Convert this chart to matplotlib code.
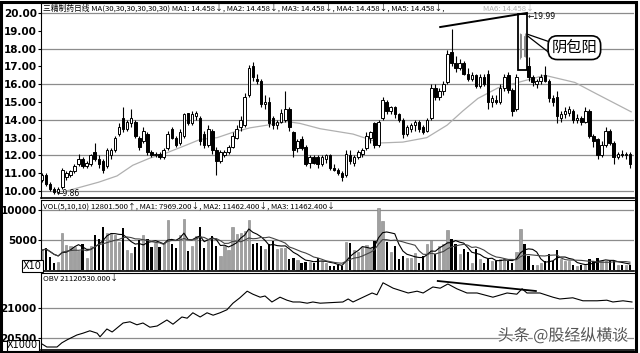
import numpy as np
import pandas as pd
import matplotlib
matplotlib.use('Agg')
import matplotlib.pyplot as plt
import matplotlib.patheffects as pe
from matplotlib.patches import Rectangle

plt.rcParams['font.family'] = ['Noto Sans CJK SC', 'DejaVu Sans']

# daily candles (price, yuan)
opens = [10.6, 10.9, 10.4, 10.1, 9.95, 10.2, 10.8, 10.9, 11.1, 11.5, 11.8, 11.4, 11.5, 12.2, 11.8, 11.7,
         11.4, 12.0, 12.3, 13.2, 14.1, 13.5, 13.8, 13.9, 13.0, 12.8, 13.2, 12.2, 12.0, 12.1, 11.9, 12.4,
         13.5, 13.0, 12.7, 13.1, 14.4, 13.8, 14.2, 14.1, 13.2, 12.6, 13.4, 12.3, 11.7, 12.0, 12.2, 12.5,
         13.0, 13.6, 13.7, 15.4, 17.0, 16.3, 16.2, 14.9, 15.0, 14.1, 13.7, 13.9, 14.0, 14.6, 13.3, 12.4,
         12.9, 12.5, 11.6, 11.9, 11.9, 11.5, 11.8, 12.0, 11.3, 11.2, 11.0, 10.9, 12.0, 11.6, 11.9, 12.1,
         12.4, 13.0, 13.8, 12.6, 14.1, 15.0, 14.5, 14.7, 14.3, 14.0, 13.2, 13.5, 13.7, 13.9, 13.6, 13.4,
         14.1, 15.8, 15.3, 15.6, 16.1, 17.8, 17.2, 16.9, 17.2, 16.6, 16.3, 16.5, 15.9, 16.4, 16.6, 15.0,
         15.1, 15.0, 15.8, 16.5, 15.7, 14.6, 17.5, 18.7, 17.0, 16.4, 16.0, 16.2, 16.5, 16.2, 15.2, 15.3,
         14.1, 14.3, 14.4, 14.5, 14.0, 14.1, 13.9, 14.5, 13.1, 12.9, 12.0, 12.6, 13.4, 12.7, 11.9, 12.1,
         12.0, 12.1]
highs = [11.0, 11.0, 10.5, 10.2, 10.2, 11.3, 11.1, 11.2, 11.5, 12.1, 11.9, 11.7, 12.1, 12.7, 12.0, 11.8,
         12.4, 12.4, 13.1, 13.8, 14.7, 14.0, 14.6, 14.0, 13.1, 13.6, 13.3, 12.3, 12.2, 12.2, 12.4, 13.4,
         13.6, 13.1, 13.5, 14.4, 14.4, 14.5, 14.5, 14.2, 13.4, 13.7, 13.5, 12.5, 12.3, 12.3, 12.6, 13.3,
         13.7, 14.2, 15.5, 17.1, 17.25, 16.6, 16.3, 15.4, 15.3, 14.2, 14.0, 14.6, 15.6, 14.7, 13.4, 12.9,
         13.1, 12.6, 12.0, 12.0, 12.0, 12.0, 12.1, 12.1, 11.5, 11.3, 11.1, 12.3, 12.3, 12.0, 12.3, 12.4,
         13.3, 13.4, 13.9, 14.0, 15.3, 15.1, 14.8, 14.8, 14.4, 14.1, 13.7, 13.8, 14.0, 14.0, 13.7, 14.1,
         16.0, 16.0, 15.8, 16.2, 17.9, 19.1, 17.6, 17.4, 17.3, 16.9, 16.7, 16.6, 16.6, 16.6, 16.8, 15.4,
         15.4, 16.0, 16.6, 16.7, 15.8, 16.6, 18.9, 18.9, 17.5, 16.5, 16.3, 16.6, 17.0, 16.3, 15.4, 15.6,
         14.5, 14.7, 14.8, 14.6, 14.3, 14.2, 14.7, 14.6, 13.2, 13.0, 12.8, 13.6, 13.5, 12.8, 12.2, 12.3,
         12.2, 12.2]
lows = [10.5, 10.3, 10.0, 9.86, 9.9, 10.1, 10.6, 10.8, 11.0, 11.4, 11.3, 11.3, 11.4, 11.7, 11.3, 11.0,
        11.3, 11.8, 12.2, 13.1, 13.3, 13.4, 13.6, 13.0, 12.3, 12.7, 12.0, 11.9, 11.9, 11.8, 11.8, 12.3,
        12.9, 12.5, 12.6, 13.0, 13.7, 13.7, 14.0, 12.6, 12.4, 12.5, 12.1, 10.9, 11.6, 11.9, 12.1, 12.4,
        12.9, 13.4, 13.6, 15.3, 16.2, 16.0, 14.7, 14.6, 13.6, 13.5, 13.5, 13.8, 13.9, 13.4, 11.9, 12.2,
        12.3, 11.4, 11.3, 11.5, 11.3, 11.4, 11.6, 11.2, 11.1, 10.9, 10.55, 10.8, 11.5, 11.4, 11.8, 11.9,
        12.3, 12.7, 12.4, 12.5, 14.0, 14.3, 14.3, 14.1, 13.9, 13.0, 13.1, 13.3, 13.4, 13.3, 13.2, 13.3,
        14.0, 15.1, 15.1, 15.4, 16.0, 17.0, 16.7, 16.8, 16.5, 16.2, 16.2, 15.8, 15.8, 15.9, 14.6, 14.7,
        14.9, 14.9, 15.6, 15.5, 14.2, 14.5, 17.4, 17.5, 16.2, 15.9, 15.8, 16.0, 16.1, 15.0, 14.8, 13.8,
        13.9, 14.1, 14.2, 13.8, 13.8, 13.7, 13.8, 13.0, 12.5, 11.8, 11.9, 12.5, 12.6, 11.5, 11.8, 11.9,
        11.8, 11.3]
closes = [10.9, 10.4, 10.1, 9.95, 10.1, 11.2, 11.0, 11.1, 11.4, 11.8, 11.4, 11.6, 12.0, 11.8, 11.5, 11.2,
          12.3, 12.3, 13.0, 13.6, 13.5, 13.9, 14.1, 13.1, 12.5, 13.4, 12.2, 12.0, 12.1, 11.9, 12.3, 13.2,
          13.0, 12.6, 13.3, 14.3, 13.8, 14.3, 14.4, 12.8, 12.6, 13.5, 12.3, 11.7, 12.2, 12.2, 12.5, 13.1,
          13.5, 14.0, 15.3, 16.9, 16.4, 16.2, 14.9, 15.0, 13.8, 13.7, 13.9, 14.4, 14.6, 13.6, 12.3, 12.8,
          12.4, 11.5, 11.9, 11.6, 11.5, 11.9, 12.0, 11.3, 11.2, 11.0, 10.8, 12.1, 11.7, 11.9, 12.2, 12.3,
          13.1, 13.3, 12.6, 13.9, 15.1, 14.5, 14.7, 14.3, 14.0, 13.2, 13.6, 13.7, 13.9, 13.5, 13.3, 14.0,
          15.8, 15.3, 15.6, 16.0, 17.7, 17.2, 16.9, 17.2, 16.6, 16.3, 16.5, 15.9, 16.4, 16.0, 15.0, 15.2,
          15.0, 15.8, 16.4, 15.7, 14.5, 16.4, 18.8, 17.6, 16.4, 16.1, 16.2, 16.4, 16.2, 15.2, 15.0, 14.2,
          14.3, 14.5, 14.6, 14.0, 14.1, 13.9, 14.5, 13.1, 12.8, 12.0, 12.6, 13.4, 12.7, 11.9, 12.1, 12.0,
          12.1, 11.5]
volumes = [3300, 3700, 2200, 1200, 1300, 6100, 4100, 4000, 3800, 3100, 4300, 2000, 4000, 5900, 5200, 7200,
           6100, 6000, 5800, 4600, 7000, 3300, 2900, 3800, 5000, 5900, 5200, 3800, 4500, 3800, 4500, 8300,
           4400, 3700, 5800, 8500, 3100, 4000, 5600, 7200, 3700, 4800, 5600, 4000, 2300, 4000, 3300, 7100,
           6000, 6200, 6500, 8400, 4300, 4500, 4000, 3500, 4400, 4900, 3500, 3700, 3600, 1900, 2000, 1700,
           1200, 1400, 1400, 1200, 2000, 1500, 1100, 600, 600, 800, 700, 4700, 4500, 3400, 3000, 3900,
           4100, 3700, 4800, 10400, 8100, 4700, 3000, 4000, 1800, 2300, 2000, 2000, 2900, 1200, 2300, 4400,
           5000, 2700, 4000, 4300, 6600, 5200, 4400, 2700, 3500, 3000, 1200, 3500, 1800, 1200, 1800, 1500,
           1500, 1800, 1800, 1500, 1200, 3000, 6800, 4300, 2300, 800, 800, 1100, 1500, 2700, 1500, 3300,
           1800, 1500, 1500, 800, 600, 800, 800, 1900, 1500, 2000, 1500, 1500, 1500, 1500, 900, 900,
           800, 900]

# 30-day MA (candle index, price)
ma30_idx = [6, 14, 18.5, 22.4, 26.6, 30.8, 35.8, 39, 43.2, 47.1, 51.3, 55.5, 60.4, 63.6, 68.6, 76.7,
            83.4, 89, 94.9, 99.9, 103.8, 107.5, 112.5, 117.4, 124, 131.4, 136.4, 145.3]
ma30_val = [10.0, 10.5, 10.85, 11.45, 11.85, 12.15, 12.6, 12.9, 13.0, 13.3, 13.55, 13.7, 13.9, 13.8, 13.5, 13.2,
            12.7, 12.75, 13.0, 13.7, 14.5, 15.2, 15.8, 16.1, 16.5, 16.1, 15.5, 14.45]

# OBV (x1000)
obv_idx = [0, 1.2, 3.7, 4.9, 6.2, 8.6, 10.1, 11.8, 13.6, 14.3, 16, 17.3, 20, 21.7, 23.4, 24.9, 26.6, 28.4,
           30.8, 32.3, 34.5, 35.8, 37.2, 39, 40.7, 42.2, 43.9, 45.6, 47.1, 48.8, 50.6, 52, 53.8, 55, 56.7,
           58.7, 60.4, 61.9, 63.6, 65.4, 66.8, 68.6, 74.2, 75.5, 76.7, 79.2, 81.4, 82.6, 84.1, 86.6, 90.3,
           92.5, 94, 96.4, 98.2, 100.1, 102.3, 104.8, 107.3, 111.2, 114.7, 117.1, 118.4, 119.6, 122.8, 126,
           127.7, 130.9, 133.4, 136.9, 139.3, 140.8, 143.3, 145.5]
obv_val = [20400, 20350, 20350, 20420, 20470, 20550, 20580, 20620, 20580, 20520, 20650, 20600, 20750, 20770,
           20720, 20750, 20680, 20700, 20800, 20730, 20850, 20830, 20920, 20850, 20920, 20880, 20920, 20970,
           21080, 21170, 21280, 21230, 21180, 21200, 21100, 21180, 21130, 21100, 21100, 21080, 21100, 21080,
           21100, 21150, 21100, 21180, 21250, 21220, 21420, 21330, 21250, 21280, 21250, 21350, 21330, 21400,
           21320, 21250, 21250, 21180, 21250, 21230, 21320, 21250, 21250, 21180, 21150, 21170, 21120, 21120,
           21130, 21100, 21120, 21100]

price_ticks = [10, 11, 12, 13, 14, 15, 16, 17, 18, 19, 20]
vol_ticks = [5000, 10000]
obv_ticks = [20500, 21000]

o = np.array(opens); h = np.array(highs); l = np.array(lows); c = np.array(closes)
x = np.arange(len(opens))
up = c >= o
box_idx = [118, 119]  # the two candles inside the marked box

W, H = 640, 353
fig = plt.figure(figsize=(W / 100, H / 100), dpi=100)
fig.patch.set_facecolor('white')


def px_axes(left, top, right, bottom):
    return fig.add_axes([left / W, 1 - bottom / H, (right - left) / W, (bottom - top) / H])


ax1 = px_axes(41, 3, 634, 198)
ax2 = px_axes(41, 200, 634, 271)
ax3 = px_axes(41, 273, 634, 350)

xlim = (-0.25, 146.0)
tick_font = dict(family='DejaVu Sans', weight='bold', size=7.5)
for ax in (ax1, ax2, ax3):
    ax.set_xlim(*xlim)
    ax.set_xticks([])
    ax.spines['right'].set_visible(False)
    ax.spines['left'].set_linestyle((0, (1, 1)))
    ax.spines['left'].set_linewidth(0.8)
    ax.spines['top'].set_linewidth(0.8)
    ax.spines['bottom'].set_linewidth(1.2)
    ax.tick_params(axis='y', length=2, width=0.8, pad=1)
    ax.set_facecolor('white')

grid_kw = dict(color='#8c8c8c', lw=0.9, zorder=0)
hdr = 5.6

# ---- price panel
ax1.set_ylim(9.61, 20.56)
ax1.set_yticks(price_ticks)
ax1.set_yticklabels([f'{v:.2f}' for v in price_ticks], **tick_font)
for v in [10, 12, 14, 16, 18, 20]:
    ax1.axhline(v, **grid_kw)

normal = np.array([i not in box_idx for i in x])
ax1.vlines(x[normal], l[normal], h[normal], color='black', lw=0.8, zorder=2)
ax1.bar(x[normal & up], (c - o)[normal & up], bottom=o[normal & up], width=0.62,
        color='white', edgecolor='black', lw=0.7, zorder=3)
ax1.bar(x[normal & ~up], (c - o)[normal & ~up], bottom=o[normal & ~up], width=0.62,
        color='black', edgecolor='black', lw=0.7, zorder=3)
for i in box_idx:
    ax1.vlines(i, l[i], h[i], color='#999999', lw=0.8, zorder=2)
    ax1.bar(i, c[i] - o[i], bottom=o[i], width=0.45, color='white', edgecolor='#888888', lw=0.7, zorder=3)
ax1.add_patch(Rectangle((117.3, 16.8), 2.3, 19.95 - 16.8, fill=False, ec='black', lw=1.3, zorder=4))

ax1.plot(ma30_idx, ma30_val, color='#b0b0b0', lw=0.9, zorder=1)

# trend line over the two highs
ax1.plot([98.2, 119.6], [19.21, 20.0], color='black', lw=1.4, zorder=5)

ax1.text(3.5, 9.86, '←9.86', fontsize=5.5, family='DejaVu Sans', va='center', ha='left', zorder=5)
ax1.text(119.8, 19.82, '←19.99', fontsize=5.5, family='DejaVu Sans', va='center', ha='left', zorder=5)

# callout bubble
ax1.plot([119.8, 124.9], [18.8, 18.4], color='black', lw=0.9, zorder=5)
ax1.plot([119.8, 124.9], [18.7, 17.8], color='black', lw=0.9, zorder=5)
ax1.text(131.3, 18.05, '阴包阳', fontsize=11, ha='center', va='center', zorder=6,
         bbox=dict(boxstyle='round,pad=0.22,rounding_size=0.6', fc='white', ec='black', lw=1.2))

ax1.text(0.003, 0.993, '三精制药日线 MA(30,30,30,30,30,30) MA1: 14.458↓, MA2: 14.458↓, MA3: 14.458↓, '
         'MA4: 14.458↓, MA5: 14.458↓,', transform=ax1.transAxes, fontsize=hdr, va='top', ha='left')
ax1.text(0.745, 0.993, 'MA6: 14.458↓', transform=ax1.transAxes, fontsize=hdr, va='top', ha='left',
         color='#b0b0b0')

# ---- volume panel
ax2.set_ylim(-170, 11670)
ax2.set_yticks(vol_ticks)
ax2.set_yticklabels([str(v) for v in vol_ticks], **tick_font)
for v in vol_ticks:
    ax2.axhline(v, **grid_kw)
vol = np.array(volumes)
ax2.bar(x[up], vol[up], width=0.55, color='#a0a0a0', edgecolor='#808080', lw=0.4, zorder=2)
ax2.bar(x[~up], vol[~up], width=0.55, color='black', lw=0, zorder=2)
vs = pd.Series(volumes)
ax2.plot(x, vs.rolling(5, min_periods=1).mean(), color='black', lw=0.8, zorder=3)
ax2.plot(x, vs.rolling(10, min_periods=1).mean(), color='#444444', lw=0.8, zorder=3)
ax2.text(0.003, 0.97, 'VOL(5,10,10) 12801.500↑, MA1: 7969.200↓, MA2: 11462.400↓, MA3: 11462.400↓',
         transform=ax2.transAxes, fontsize=hdr, va='top', ha='left')

# ---- OBV panel
ax3.set_ylim(20300, 21583)
ax3.set_yticks(obv_ticks)
ax3.set_yticklabels([str(v) for v in obv_ticks], **tick_font)
for v in obv_ticks:
    ax3.axhline(v, **grid_kw)
ax3.plot(obv_idx, obv_val, color='black', lw=0.8, zorder=3)
ax3.plot([97.6, 121.8], [21450, 21283], color='black', lw=1.3, zorder=4)
ax3.text(0.003, 0.97, 'OBV 21120530.000↓', transform=ax3.transAxes, fontsize=hdr, va='top', ha='left')

# unit boxes on the left margin
fig.text(23 / W, 1 - 266 / H, 'X10', fontsize=7, family='DejaVu Sans', va='center', ha='left',
         bbox=dict(boxstyle='square,pad=0.1', fc='white', ec='black', lw=0.8))
fig.text(7 / W, 1 - 345.5 / H, 'X1000', fontsize=7, family='DejaVu Sans', va='center', ha='left',
         bbox=dict(boxstyle='square,pad=0.05', fc='white', ec='black', lw=0.8))

# watermark
fig.text(563 / W, 1 - 336 / H, '头条 @股经纵横谈', fontsize=11.5, color='#555555', ha='center', va='center',
         path_effects=[pe.withStroke(linewidth=2, foreground='white')])

# outer frame
fig.add_artist(Rectangle((1 / W, 1 / H), 635 / W, 350 / H, transform=fig.transFigure,
                         fill=False, ec='black', lw=2.2))

fig.savefig('out.png', dpi=100)
